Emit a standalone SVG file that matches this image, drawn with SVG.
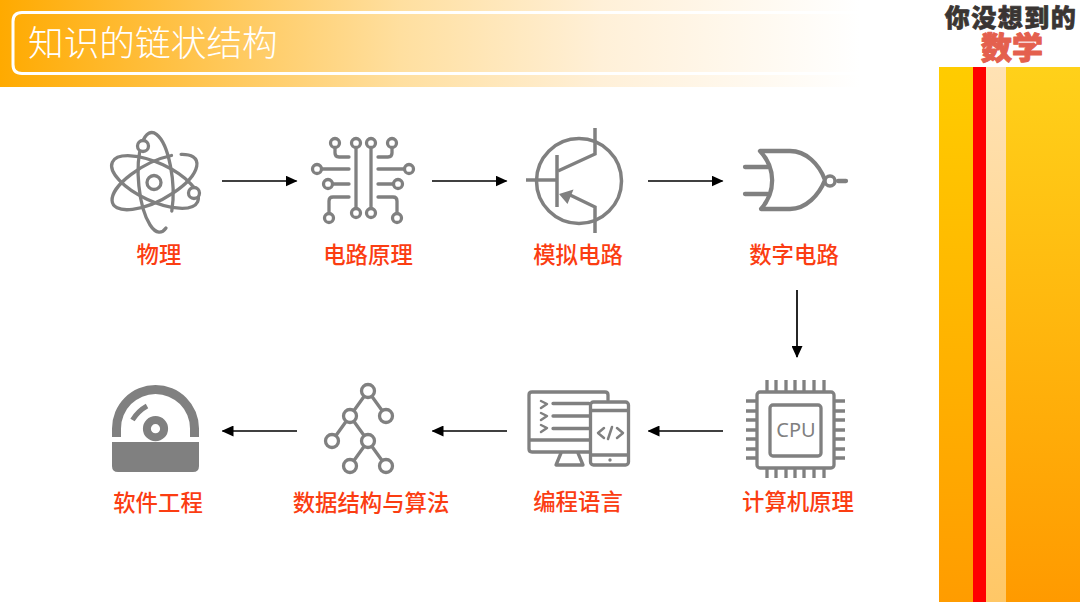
<svg xmlns="http://www.w3.org/2000/svg" width="1080" height="602" viewBox="0 0 1080 602">
<defs>
<linearGradient id="band" x1="0" y1="0" x2="1" y2="0"><stop offset="0" stop-color="#ffaa00"/><stop offset="0.465" stop-color="#ffdf9f"/><stop offset="0.7" stop-color="#fff0d8"/><stop offset="1" stop-color="#ffffff"/></linearGradient>
<linearGradient id="sideA" x1="0" y1="0" x2="0" y2="1"><stop offset="0" stop-color="#ffcc00"/><stop offset="1" stop-color="#ff9c00"/></linearGradient>
<linearGradient id="sideB" x1="0" y1="0" x2="0" y2="1"><stop offset="0" stop-color="#ffd11a"/><stop offset="1" stop-color="#ff9a00"/></linearGradient>
<linearGradient id="sideC" x1="0" y1="0" x2="0" y2="1"><stop offset="0" stop-color="#ffe2b4"/><stop offset="1" stop-color="#ffc766"/></linearGradient>
<marker id="arrow" markerWidth="12" markerHeight="11" refX="11" refY="5.500" orient="auto" markerUnits="userSpaceOnUse"><path d="M0 0L12 5.500L0 11Z" fill="#000"/></marker>
</defs>
<style>
.lbl{font-family:"Noto Sans CJK SC",sans-serif;font-size:22.400px;font-weight:500;fill:#fb3d12;text-anchor:middle}
.ln{fill:none;stroke:#808080;stroke-width:3.300;stroke-linecap:round;stroke-linejoin:round}
.dot{fill:#fff;stroke:#808080;stroke-width:3.300}
.solid{fill:#808080}
.conn{stroke:#000;stroke-width:1.700;fill:none;marker-end:url(#arrow)}
</style>

<!-- title band -->
<rect width="860" height="87" fill="url(#band)"/>
<path d="M860 12.500H22Q13 12.500 13 21.500V64.500Q13 73.500 22 73.500H860" fill="none" stroke="#fff" stroke-width="3"/>
<text x="28" y="56" font-family="'Noto Sans CJK SC',sans-serif" font-size="35.700" fill="#fff" font-weight="300">知识的链状结构</text>

<!-- brand mark -->
<g id="brand" font-family="'Noto Sans CJK SC',sans-serif" font-weight="900" text-anchor="middle" stroke-linejoin="round">
<text x="1011" y="27" font-size="25" letter-spacing="1.500" fill="#3a3533" stroke="#3a3533" stroke-width="0.700">你没想到的</text>
<text x="1012" y="59" font-size="31" fill="#e4604e" stroke="#e4604e" stroke-width="1">数学</text>
</g>

<!-- side stripes -->
<rect x="939" y="67" width="34" height="535" fill="url(#sideA)"/>
<rect x="973" y="67" width="13" height="535" fill="#ff0000"/>
<rect x="986" y="67" width="20" height="535" fill="url(#sideC)"/>
<rect x="1006" y="67" width="74" height="535" fill="url(#sideB)"/>

<g id="connectors">
<line class="conn" x1="222" y1="181" x2="296.500" y2="181"/>
<line class="conn" x1="432" y1="181" x2="506.500" y2="181"/>
<line class="conn" x1="648" y1="181" x2="722.500" y2="181"/>
<line class="conn" x1="797" y1="290" x2="797" y2="357"/>
<line class="conn" x1="723" y1="431" x2="648.500" y2="431"/>
<line class="conn" x1="507" y1="431" x2="432.500" y2="431"/>
<line class="conn" x1="297" y1="431" x2="222.500" y2="431"/>
</g>

<g id="node-physics">
<g class="ln">
<path d="M171.800 211A17 50 -5 1 0 166 228"/>
<path d="M181.100 154.300A47 19 -28 1 1 171.500 155.500"/>
<ellipse cx="155" cy="182" rx="47" ry="19" transform="rotate(25 155 182)"/>
<circle cx="154" cy="182.500" r="7"/>
</g>
<circle class="dot" cx="143" cy="146" r="5.500"/>
<circle class="dot" cx="194" cy="193" r="5.500"/>
<text class="lbl" x="159" y="263">物理</text>
</g>

<g id="node-circuit">
<g class="ln">
<circle cx="335" cy="143" r="4.500"/><circle cx="356" cy="143" r="4.500"/><circle cx="371" cy="143" r="4.500"/><circle cx="392" cy="143" r="4.500"/>
<circle cx="317" cy="169" r="4.500"/><circle cx="409" cy="169" r="4.500"/>
<circle cx="328" cy="184" r="4.500"/><circle cx="398" cy="184" r="4.500"/>
<circle cx="329" cy="218" r="4.500"/><circle cx="397" cy="218" r="4.500"/>
<circle cx="356" cy="213" r="4.500"/><circle cx="371" cy="213" r="4.500"/>
<path d="M356 148V208M371 148V208"/>
<path d="M335 148V153Q335 157 339 157H349M392 148V153Q392 157 388 157H378"/>
<path d="M322 169H349M404 169H378M333 184H349M393 184H378"/>
<path d="M329 213V201Q329 197 333 197H349M397 213V201Q397 197 393 197H378"/>
</g>
<text class="lbl" x="368" y="263">电路原理</text>
</g>

<g id="node-transistor">
<g class="ln" style="stroke-width:3.500;stroke-linecap:butt;stroke-linejoin:miter">
<circle cx="579" cy="181" r="42.500"/>
<path d="M526 180H556"/>
<path d="M557 155V207"/>
<path d="M558 171L595 154V128"/>
<path d="M568 194L595 207V233"/>
</g>
<path class="solid" d="M559 194L573.500 189.500L567.500 204Z"/>
<text class="lbl" x="578" y="263">模拟电路</text>
</g>

<g id="node-gate">
<g class="ln" style="stroke-width:4.300">
<path d="M760 151H790C806 151 819 164 825 180C819 195 806 209 790 209H761C776 192 776 168 760 151Z"/>
<path d="M745 167H768M745 194H768M838 181H846"/>
</g>
<circle class="dot" cx="830" cy="181" r="5" style="stroke-width:3.500"/>
<text class="lbl" x="794" y="263">数字电路</text>
</g>

<g id="node-cpu">
<g class="ln" style="stroke-linecap:butt">
<rect x="757" y="392" width="77" height="76" rx="3"/>
<rect x="770" y="405" width="51" height="51" rx="3"/>
<path d="M767 380V391M776 380V391M786 380V391M795 380V391M804 380V391M814 380V391M824 380V391M767 469V478M776 469V478M786 469V478M795 469V478M804 469V478M814 469V478M824 469V478"/>
<path d="M746 401H756M746 411H756M746 420H756M746 430H756M746 439H756M746 449H756M746 458H756M835 401H845M835 411H845M835 420H845M835 430H845M835 439H845M835 449H845M835 458H845"/>
</g>
<text x="796" y="437" font-family="'Noto Sans',sans-serif" font-size="20" fill="#808080" text-anchor="middle">CPU</text>
<text class="lbl" x="798" y="510">计算机原理</text>
</g>

<g id="node-code">
<g class="ln">
<path d="M589 452H532Q529 452 529 449V395Q529 392 532 392H605Q608 392 608 395V400"/>
<path d="M530 440H589"/>
<path d="M561 453L556 465H583L578 453"/>
<rect x="590.500" y="402" width="38" height="63" rx="3"/>
<path d="M591 410.500H628M591 455H628"/>
<path d="M553 403.500H589M553 416H589M553 428.500H589"/>
<path d="M541 401L547 404L541 408M541 413L547 416L541 420M541 425L547 428L541 432" style="stroke-width:2.500"/>
<path d="M604 428L598 433L604 438M617 428L623 433L617 438M612 427L608 439" style="stroke-width:2.500"/>
</g>
<circle cx="610" cy="460" r="1.700" class="solid"/>
<text class="lbl" x="578" y="510">编程语言</text>
</g>

<g id="node-tree">
<path class="ln" d="M368 391L350 416M368 391L386 416M350 416L332 441M350 416L368 441M368 441L350 466M368 441L386 466"/>
<circle class="dot" cx="368" cy="391" r="6.500"/><circle class="dot" cx="350" cy="416" r="6.500"/><circle class="dot" cx="386" cy="416" r="6.500"/>
<circle class="dot" cx="332" cy="441" r="6.500"/><circle class="dot" cx="368" cy="441" r="6.500"/>
<circle class="dot" cx="350" cy="466" r="6.500"/><circle class="dot" cx="386" cy="466" r="6.500"/>
<text class="lbl" x="371" y="511">数据结构与算法</text>
</g>

<g id="node-disc">
<path d="M112 437V428.500A43.500 43.500 0 0 1 199 428.500V437H190V428.500A34.500 34.500 0 0 0 121 428.500V437Z" class="solid"/>
<path d="M112 442H199V466Q199 472 193 472H118Q112 472 112 466Z" class="solid"/>
<path d="M132.500 420Q138 411 147 406" fill="none" stroke="#808080" stroke-width="5"/>
<circle cx="155.500" cy="428.700" r="8.600" fill="none" stroke="#808080" stroke-width="8"/>
<text class="lbl" x="158" y="511">软件工程</text>
</g>
</svg>
